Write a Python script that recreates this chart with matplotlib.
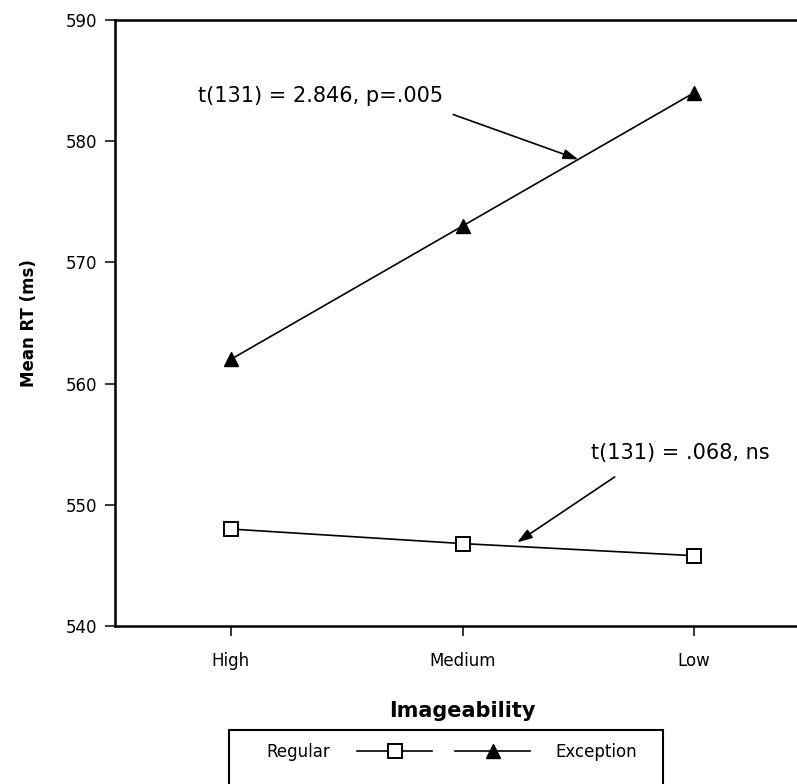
import matplotlib
matplotlib.use('Agg')
from matplotlib import pyplot as plt
from matplotlib.patches import Rectangle

# data
imageability = ['High', 'Medium', 'Low']
regular_rt = [548.0, 546.8, 545.8]
exception_rt = [562.0, 573.0, 584.0]
y_ticks = [540, 550, 560, 570, 580, 590]

exception_note = 't(131) = 2.846, p=.005'
regular_note = 't(131) = .068, ns'

plt.rcParams['font.family'] = ['DejaVu Sans']

W, H = 797, 784
fig = plt.figure(figsize=(W / 100, H / 100), dpi=100)
# the right side of the frame is cut off in the original scan
ax = fig.add_axes([115 / W, (H - 626) / H, (810 - 115) / W, 606 / H])

x = list(range(len(imageability)))
reg_line, = ax.plot(x, regular_rt, color='black', lw=1.2, marker='s', ms=9.5,
                    mfc='white', mec='black', mew=1.4, label='Regular')
exc_line, = ax.plot(x, exception_rt, color='black', lw=1.2, marker='^', ms=9.5,
                    mfc='black', mec='black', label='Exception')

ax.set_xlim(-0.5, 2.5)
ax.set_ylim(540, 590)
ax.set_yticks(y_ticks)
ax.set_xticks(x)
ax.set_xticklabels(imageability)
ax.tick_params(axis='both', direction='out', length=7, width=1.1, labelsize=12,
               pad=6)
ax.tick_params(axis='x', pad=12)
for side in ['left', 'bottom', 'top']:
    ax.spines[side].set_linewidth(1.8)
ax.spines['right'].set_visible(False)

ax.set_ylabel('Mean RT (ms)', fontsize=12, fontweight='bold', labelpad=20)
ax.set_xlabel('Imageability', fontsize=15, fontweight='bold', labelpad=22)

arrow = dict(arrowstyle='-|>,head_length=0.9,head_width=0.3', color='black',
             lw=1.2, shrinkA=0, shrinkB=0)
ax.text(-0.14, 583.7, exception_note, fontsize=15, va='center', ha='left')
ax.annotate('', xy=(1.50, 578.5), xytext=(0.96, 582.2), arrowprops=arrow)
ax.text(1.553, 554.3, regular_note, fontsize=15, va='center', ha='left')
ax.annotate('', xy=(1.236, 546.9), xytext=(1.657, 552.3), arrowprops=arrow)

# legend: label left of the first sample, right of the second
ly = (H - 752) / H
leg1 = fig.legend(handles=[reg_line], loc='center right', markerfirst=False,
                  bbox_to_anchor=(432 / W, ly), frameon=False, fontsize=12,
                  handlelength=4.5, handletextpad=1.6, borderpad=0,
                  borderaxespad=0, numpoints=1)
fig.legend(handles=[exc_line], loc='center left', markerfirst=True,
           bbox_to_anchor=(455 / W, ly), frameon=False, fontsize=12,
           handlelength=4.5, handletextpad=1.5, borderpad=0,
           borderaxespad=0, numpoints=1)
fig.patches.append(Rectangle((229 / W, -0.05), (663 - 229) / W,
                             (H - 730) / H + 0.05, transform=fig.transFigure,
                             fill=False, ec='black', lw=1.5))

fig.savefig('out.png', dpi=100)
